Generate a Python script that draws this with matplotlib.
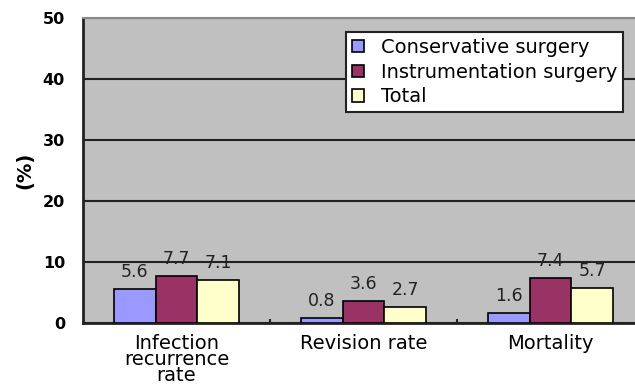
import numpy as np
import matplotlib.pyplot as plt

categories = ["Infection\nrecurrence\nrate", "Revision rate", "Mortality"]
series = ["Conservative surgery", "Instrumentation surgery", "Total"]
conservative = [5.6, 0.8, 1.6]
instrumentation = [7.7, 3.6, 7.4]
total = [7.1, 2.7, 5.7]

colors = ["#9999FF", "#993366", "#FFFFCC"]

fig = plt.figure(figsize=(6.35, 3.88), dpi=100)
ax = fig.add_axes([83 / 635, 65 / 388, 561 / 635, 305 / 388])
ax.set_facecolor("#C0C0C0")

x = np.arange(len(categories))
w = 0.223
values = [conservative, instrumentation, total]

for i, (name, vals) in enumerate(zip(series, values)):
    pos = x + (i - 1) * w
    bars = ax.bar(pos, vals, width=w, color=colors[i], edgecolor="black",
                  linewidth=1.2, label=name, zorder=3)
    for b, v in zip(bars, vals):
        ax.text(b.get_x() + b.get_width() / 2, v + 1.3, f"{v}",
                ha="center", va="bottom", fontsize=12.5, color="#222222",
                zorder=4)

ax.set_xlim(-0.5, 2.5)
ax.set_ylim(0, 50)
ax.set_yticks([0, 10, 20, 30, 40, 50])
ax.yaxis.grid(True, color="#222222", linewidth=1.5, zorder=1)
ax.set_axisbelow(True)
ax.tick_params(axis="y", length=0, pad=13)
for lab in ax.get_yticklabels():
    lab.set_fontweight("bold")
    lab.set_fontsize(11.5)

ax.set_xticks(x)
ax.set_xticklabels(categories, fontsize=14, linespacing=0.78)
ax.tick_params(axis="x", length=0, pad=8)
ax.set_xticks([0.5, 1.5], minor=True)
ax.tick_params(axis="x", which="minor", direction="in", length=3,
               width=1.5, color="#222222")

ax.set_ylabel("(%)", fontsize=14, fontweight="bold", labelpad=6)

for side in ["left", "bottom"]:
    ax.spines[side].set_color("#222222")
    ax.spines[side].set_linewidth(2)
ax.spines["top"].set_color("#888888")
ax.spines["top"].set_linewidth(1.5)
ax.spines["right"].set_visible(False)

leg = ax.legend(loc="upper left", bbox_to_anchor=(263 / 561, 1 - 14 / 305),
                fontsize=14, frameon=True, fancybox=False, handlelength=0.6,
                handleheight=0.6, handletextpad=0.9, borderpad=0.3,
                labelspacing=0.3, borderaxespad=0)
leg.get_frame().set_edgecolor("#222222")
leg.get_frame().set_linewidth(1.5)
leg.get_frame().set_facecolor("white")
leg.get_frame().set_alpha(1)

fig.savefig("out.png", dpi=100)
